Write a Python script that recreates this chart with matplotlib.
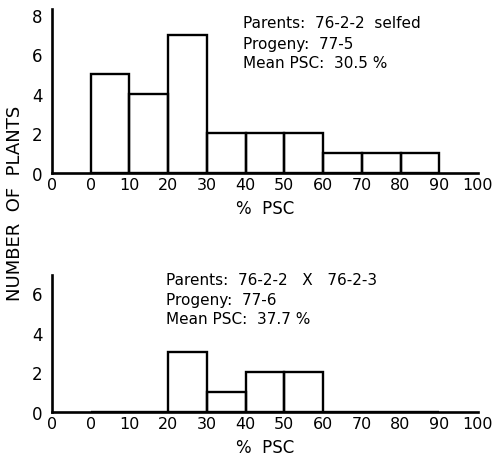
import matplotlib
matplotlib.use("Agg")
import matplotlib.pyplot as plt

# Data
bin_left = [0, 10, 20, 30, 40, 50, 60, 70, 80]
bin_width = 10
counts_77_5 = [5, 4, 7, 2, 2, 2, 1, 1, 1]
counts_77_6 = [0, 0, 3, 1, 2, 2, 0, 0, 0]
xtick_pos = [-10, 0, 10, 20, 30, 40, 50, 60, 70, 80, 90, 100]
xtick_labels = ["0", "0", "10", "20", "30", "40", "50", "60", "70", "80", "90", "100"]
ytick_top = [0, 2, 4, 6, 8]
ytick_bottom = [0, 2, 4, 6]
text_top = ["Parents:  76-2-2  selfed", "Progeny:  77-5", "Mean PSC:  30.5 %"]
text_bottom = ["Parents:  76-2-2   X   76-2-3", "Progeny:  77-6", "Mean PSC:  37.7 %"]

plt.rcParams['font.family'] = ['DejaVu Sans']
W, H = 499, 456
fig = plt.figure(figsize=(W / 100, H / 100), dpi=100)

def px_axes(left, right, top, bottom):
    return fig.add_axes([left / W, 1 - bottom / H, (right - left) / W, (bottom - top) / H])

ax1 = px_axes(52, 478, 10, 174)
ax2 = px_axes(52, 478, 276, 413)

def style(ax, counts, yticks, ytop):
    ax.bar(bin_left, counts, width=bin_width, align='edge',
           fill=False, edgecolor='black', linewidth=1.7)
    ax.set_xlim(-10, 100)
    ax.set_ylim(0, ytop)
    for s in ['top', 'right']:
        ax.spines[s].set_visible(False)
    for s in ['left', 'bottom']:
        ax.spines[s].set_linewidth(1.9)
    ax.set_xticks(xtick_pos)
    ax.set_xticklabels(xtick_labels)
    ax.set_yticks(yticks)
    ax.tick_params(axis='x', length=0, pad=3, labelsize=11.5)
    ax.tick_params(axis='y', length=0, pad=7, labelsize=12)
    ax.set_xlabel("%  PSC", fontsize=12, labelpad=5)

style(ax1, counts_77_5, ytick_top, 8.3)
style(ax2, counts_77_6, ytick_bottom, 6.9)

fig.text(15 / W, 1 - 203 / H, "NUMBER  OF  PLANTS", rotation=90, ha='center', va='center', fontsize=13)

for i, t in enumerate(text_top):
    fig.text(243 / W, 1 - (24 + 20 * i) / H, t, ha='left', va='center', fontsize=11)
for i, t in enumerate(text_bottom):
    fig.text(166 / W, 1 - (281 + 19 * i) / H, t, ha='left', va='center', fontsize=11)

fig.savefig("out.png", dpi=100)
